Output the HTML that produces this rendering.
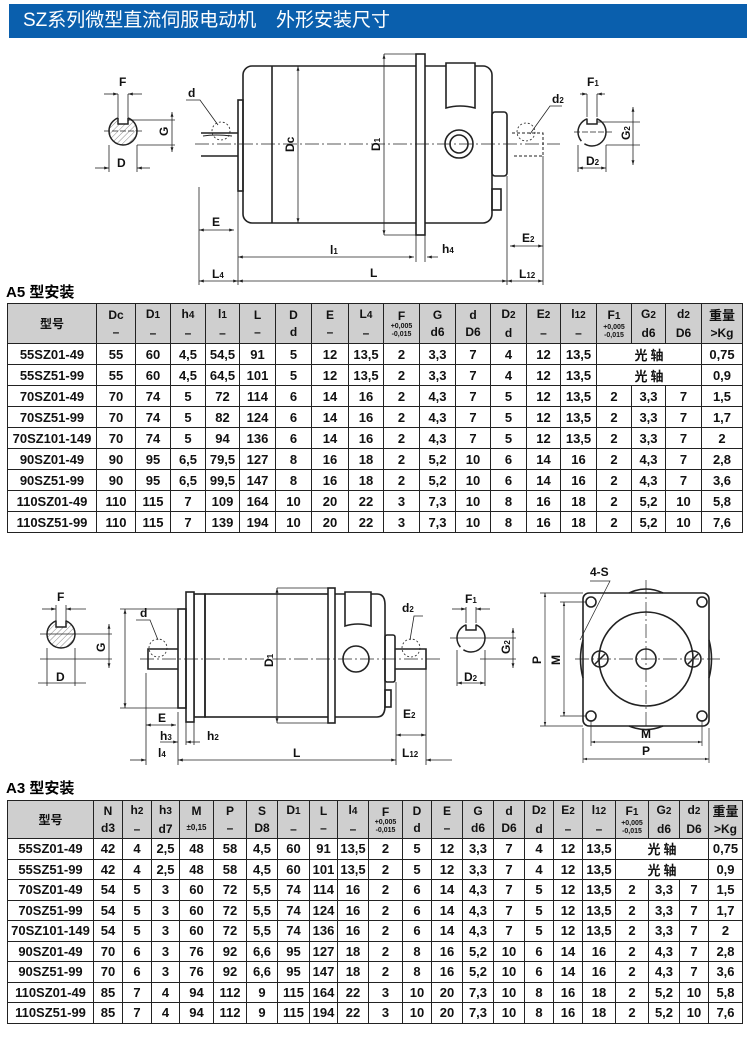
<!DOCTYPE html>
<html><head><meta charset="utf-8">
<style>
body{margin:0;background:#fff;width:750px;height:1040px;position:relative;overflow:hidden;font-family:"Liberation Sans","Noto Sans CJK SC",sans-serif;}
.bar{position:absolute;left:9px;top:4px;width:738px;height:34px;background:#0a5fad;color:#fff;font-size:19px;line-height:34px;font-family:"Liberation Sans","Noto Sans CJK SC",sans-serif;}
.bar span{position:absolute;top:0}
svg{position:absolute;left:0;top:0}
.cap{position:absolute;left:6px;font-weight:bold;font-size:15px;font-family:"Liberation Sans","Noto Sans CJK SC",sans-serif;}
table{position:absolute;left:7px;border-collapse:collapse;table-layout:fixed;width:735px;font-weight:bold;color:#111}
td{border:1.5px solid #222;text-align:center;padding:0;font-size:13px;overflow:hidden;white-space:nowrap}
tr.h td{background:#cfcfcf;font-size:12px;line-height:14px;vertical-align:middle}
.s{font-size:7px;line-height:8px;display:block}
.u{display:block;margin-top:3px}
.k{font-family:"Noto Sans CJK SC",sans-serif;font-size:13px}
</style></head><body>
<div class="bar"><span style="left:14px">SZ系列微型直流伺服电动机</span><span style="left:267px">外形安装尺寸</span></div>

<svg width="750" height="1040" viewBox="0 0 750 1040" font-family="Liberation Sans, sans-serif" font-weight="bold" font-size="12" fill="none" stroke="#222">
<defs>
<marker id="a" viewBox="0 0 10 10" refX="10" refY="5" markerWidth="6" markerHeight="6" orient="auto-start-reverse"><path d="M0,2 L10,5 L0,8z" fill="#222" stroke="none"/></marker>
<pattern id="h" width="4" height="4" patternUnits="userSpaceOnUse" patternTransform="rotate(45)"><line x1="0" y1="0" x2="0" y2="4" stroke="#888" stroke-width="1"/></pattern>
</defs>
<!-- ===== TOP DRAWING ===== -->
<g stroke-width="1.6">
<rect x="243" y="66" width="249" height="157" rx="9"/>
<line x1="272" y1="66" x2="272" y2="223"/>
<rect x="416" y="54" width="9" height="181" fill="#fff"/>
<path d="M446,108 V63 H475 V108 Q460,104 446,108z" fill="#fff"/>
<rect x="492" y="112" width="15" height="64" rx="3"/>
<rect x="492" y="189" width="9" height="21"/>
<rect x="238" y="100" width="5" height="91"/>
<path d="M201,133 H238 M201,156 H238"/>
<circle cx="459" cy="144" r="14"/><circle cx="459" cy="144" r="9"/>
</g>
<path d="M512,133 H543 V156 H512" stroke-dasharray="3,2" stroke-width="1"/>
<path d="M203,136 Q215,134 232,136" stroke-width="1"/>
<circle cx="221" cy="131" r="9" stroke-dasharray="2,2" stroke-width="0.8"/>
<circle cx="526" cy="132" r="9" stroke-dasharray="2,2" stroke-width="0.8"/>
<path d="M195,144 H560" stroke-width="0.7" stroke-dasharray="14,3,2,3"/>
<g stroke-width="0.8">
<line x1="199" y1="187" x2="199" y2="285"/><line x1="238" y1="191" x2="238" y2="285"/>
<line x1="507" y1="176" x2="507" y2="285"/><line x1="543" y1="156" x2="543" y2="285"/>
<line x1="416" y1="235" x2="416" y2="262"/><line x1="425" y1="235" x2="425" y2="262"/>
<line x1="199" y1="230" x2="234" y2="230" marker-start="url(#a)" marker-end="url(#a)"/>
<line x1="238" y1="257" x2="414" y2="257" marker-start="url(#a)" marker-end="url(#a)"/>
<line x1="427" y1="257" x2="438" y2="257" marker-start="url(#a)"/>
<line x1="238" y1="281" x2="507" y2="281" marker-start="url(#a)" marker-end="url(#a)"/>
<line x1="199" y1="281" x2="238" y2="281" marker-start="url(#a)" marker-end="url(#a)"/>
<line x1="507" y1="281" x2="543" y2="281" marker-start="url(#a)" marker-end="url(#a)"/>
<line x1="510" y1="246" x2="543" y2="246" marker-start="url(#a)" marker-end="url(#a)"/>
<line x1="298" y1="66" x2="298" y2="223" marker-start="url(#a)" marker-end="url(#a)"/>
<line x1="384" y1="54" x2="384" y2="235" marker-start="url(#a)" marker-end="url(#a)"/>
<line x1="384" y1="54" x2="416" y2="54"/><line x1="384" y1="235" x2="416" y2="235"/>
<path d="M186,100 H200 L218,125"/><path d="M562,106 H550 L530,134"/>
</g>
<!-- left section -->
<circle cx="123" cy="131" r="14" stroke-width="1.5" fill="url(#h)"/>
<rect x="118" y="116" width="10" height="8" fill="#fff" stroke="none"/>
<path d="M118,117.5 V124 H128 V117.5" stroke-width="1.5"/>
<g stroke-width="0.8">
<line x1="118" y1="94" x2="118" y2="117"/><line x1="128" y1="94" x2="128" y2="117"/>
<line x1="104" y1="94" x2="118" y2="94" marker-end="url(#a)"/><line x1="142" y1="94" x2="128" y2="94" marker-end="url(#a)"/>
<line x1="104" y1="131" x2="142" y2="131" stroke-dasharray="6,2"/>
<line x1="109" y1="145" x2="109" y2="172"/><line x1="137" y1="145" x2="137" y2="172"/>
<line x1="95" y1="168" x2="109" y2="168" marker-end="url(#a)"/><line x1="150" y1="168" x2="137" y2="168" marker-end="url(#a)"/>
<line x1="128" y1="120" x2="175" y2="120"/><line x1="137" y1="145" x2="175" y2="145"/>
<line x1="172" y1="112" x2="172" y2="152" marker-start="url(#a)" marker-end="url(#a)"/>
</g>
<!-- right section -->
<circle cx="592" cy="132" r="14" stroke-width="1.5" stroke-dasharray="30,4"/>
<rect x="587" y="117" width="10" height="8" fill="#fff" stroke="none"/>
<path d="M587,118.5 V124 H597 V118.5" stroke-width="1.5"/>
<g stroke-width="0.8">
<line x1="587" y1="94" x2="587" y2="117"/><line x1="597" y1="94" x2="597" y2="117"/>
<line x1="580" y1="94" x2="587" y2="94" marker-end="url(#a)"/><line x1="605" y1="94" x2="597" y2="94" marker-end="url(#a)"/>
<line x1="574" y1="132" x2="612" y2="132" stroke-dasharray="6,2"/>
<line x1="578" y1="145" x2="578" y2="172"/><line x1="606" y1="145" x2="606" y2="172"/>
<line x1="578" y1="168" x2="606" y2="168" marker-start="url(#a)" marker-end="url(#a)"/>
<line x1="597" y1="122" x2="640" y2="122"/><line x1="606" y1="145" x2="640" y2="145"/>
<line x1="633" y1="107" x2="633" y2="165" marker-start="url(#a)" marker-end="url(#a)"/>
</g>
<g fill="#111" stroke="none">
<text x="119" y="86">F</text><text x="117" y="167">D</text>
<text x="0" y="0" transform="translate(168,136) rotate(-90)">G</text>
<text x="587" y="86">F<tspan font-size="8">1</tspan></text><text x="586" y="165">D<tspan font-size="8">2</tspan></text>
<text x="0" y="0" transform="translate(630,140) rotate(-90)">G<tspan font-size="8">2</tspan></text>
<text x="188" y="97">d</text><text x="552" y="103">d<tspan font-size="8">2</tspan></text>
<text x="0" y="0" transform="translate(294,152) rotate(-90)">Dc</text>
<text x="0" y="0" transform="translate(380,151) rotate(-90)">D<tspan font-size="8">1</tspan></text>
<text x="212" y="226">E</text><text x="330" y="254">l<tspan font-size="8">1</tspan></text>
<text x="442" y="253">h<tspan font-size="8">4</tspan></text><text x="370" y="277">L</text>
<text x="212" y="278">L<tspan font-size="8">4</tspan></text><text x="519" y="278">L<tspan font-size="8">12</tspan></text>
<text x="522" y="242">E<tspan font-size="8">2</tspan></text>
</g>

<!-- ===== BOTTOM DRAWING ===== -->
<g stroke-width="1.6">
<rect x="205" y="594" width="125" height="123"/>
<rect x="194" y="594" width="11" height="123"/>
<rect x="186" y="592" width="8" height="130" fill="#fff"/>
<rect x="178" y="609" width="8" height="99"/>
<path d="M335,594 H377 Q385,594 385,605 V706 Q385,717 377,717 H335"/>
<rect x="328" y="588" width="7" height="135" fill="#fff"/>
<path d="M345,626 V592 H371 V626 Q358,622 345,626z" fill="#fff"/>
<rect x="385" y="635" width="10" height="47" rx="2"/>
<rect x="385" y="690" width="6" height="17"/>
<path d="M178,649 H148 V669 H178"/>
<path d="M395,649 H426 V669 H395"/>
<circle cx="356" cy="659" r="13"/>
</g>
<circle cx="158" cy="648" r="9" stroke-dasharray="2,2" stroke-width="0.8"/>
<circle cx="411" cy="648" r="9" stroke-dasharray="2,2" stroke-width="0.8"/>
<path d="M140,659 H440" stroke-width="0.7" stroke-dasharray="14,3,2,3"/>
<g stroke-width="0.8">
<line x1="277" y1="588" x2="277" y2="723" marker-start="url(#a)" marker-end="url(#a)"/>
<line x1="277" y1="588" x2="328" y2="588"/><line x1="277" y1="723" x2="328" y2="723"/>
<line x1="125" y1="609" x2="125" y2="708" marker-start="url(#a)" marker-end="url(#a)"/>
<line x1="120" y1="609" x2="178" y2="609"/><line x1="120" y1="708" x2="178" y2="708"/>
<line x1="146" y1="673" x2="146" y2="765"/><line x1="178" y1="712" x2="178" y2="765"/>
<line x1="186" y1="722" x2="186" y2="745"/><line x1="194" y1="722" x2="194" y2="745"/>
<line x1="396" y1="682" x2="396" y2="765"/><line x1="426" y1="669" x2="426" y2="765"/>
<line x1="146" y1="725" x2="176" y2="725" marker-start="url(#a)" marker-end="url(#a)"/>
<line x1="160" y1="742" x2="178" y2="742" marker-end="url(#a)"/><line x1="200" y1="742" x2="186" y2="742" marker-end="url(#a)"/>
<line x1="130" y1="760" x2="146" y2="760" marker-end="url(#a)"/>
<line x1="178" y1="760" x2="396" y2="760" marker-start="url(#a)" marker-end="url(#a)"/>
<line x1="426" y1="760" x2="452" y2="760" marker-start="url(#a)"/>
<line x1="396" y1="735" x2="426" y2="735" marker-start="url(#a)" marker-end="url(#a)"/>
<path d="M136,620 H150 L158,640"/><path d="M423,616 H414 L410,640"/>
</g>
<!-- bottom left section -->
<circle cx="61" cy="634" r="14" stroke-width="1.5" fill="url(#h)"/>
<rect x="56" y="619" width="10" height="8" fill="#fff" stroke="none"/>
<path d="M56,620.5 V627 H66 V620.5" stroke-width="1.5"/>
<g stroke-width="0.8">
<line x1="56" y1="605" x2="56" y2="621"/><line x1="66" y1="605" x2="66" y2="621"/>
<line x1="42" y1="609" x2="56" y2="609" marker-end="url(#a)"/><line x1="86" y1="609" x2="66" y2="609" marker-end="url(#a)"/>
<line x1="40" y1="634" x2="112" y2="634"/><line x1="40" y1="659" x2="112" y2="659"/>
<line x1="109" y1="624" x2="109" y2="668" marker-start="url(#a)" marker-end="url(#a)"/>
<line x1="38" y1="683" x2="86" y2="683"/>
<line x1="47" y1="648" x2="47" y2="686"/><line x1="75" y1="648" x2="75" y2="686"/>
</g>
<!-- bottom right section -->
<circle cx="471" cy="638" r="14" stroke-width="1.5" stroke-dasharray="30,4"/>
<rect x="466" y="623" width="10" height="8" fill="#fff" stroke="none"/>
<path d="M466,624.5 V630 H476 V624.5" stroke-width="1.5"/>
<g stroke-width="0.8">
<line x1="466" y1="607" x2="466" y2="623"/><line x1="476" y1="607" x2="476" y2="623"/>
<line x1="452" y1="609" x2="466" y2="609" marker-end="url(#a)"/><line x1="490" y1="609" x2="476" y2="609" marker-end="url(#a)"/>
<line x1="450" y1="638" x2="516" y2="638"/><line x1="480" y1="659" x2="516" y2="659"/>
<line x1="513" y1="628" x2="513" y2="668" marker-start="url(#a)" marker-end="url(#a)"/>
<line x1="457" y1="683" x2="485" y2="683" marker-start="url(#a)" marker-end="url(#a)"/>
<line x1="457" y1="650" x2="457" y2="686"/><line x1="485" y1="650" x2="485" y2="686"/>
</g>
<!-- end view -->
<g stroke-width="1.6">
<rect x="583" y="593" width="126" height="133" rx="6" fill="#fff"/>
<path d="M629,593 Q646,585 663,593 M629,726 Q646,733 663,726"/>
<path d="M583,640 Q578,659 583,678 M709,640 Q714,659 709,678"/>
<circle cx="646" cy="659" r="47"/>
<circle cx="646" cy="659" r="10"/>
<circle cx="600" cy="659" r="8"/><circle cx="693" cy="659" r="8"/>
<circle cx="591" cy="602" r="5"/><circle cx="702" cy="602" r="5"/>
<circle cx="591" cy="716" r="5"/><circle cx="702" cy="716" r="5"/>
</g>
<path d="M595,664 L605,654 M688,664 L698,654" stroke-width="1.5"/>
<g stroke-width="0.7">
<line x1="575" y1="659" x2="720" y2="659" stroke-dasharray="14,3,2,3"/>
<line x1="646" y1="580" x2="646" y2="738" stroke-dasharray="14,3,2,3"/>
<line x1="545" y1="593" x2="545" y2="726" marker-start="url(#a)" marker-end="url(#a)"/>
<line x1="540" y1="593" x2="583" y2="593"/><line x1="540" y1="726" x2="583" y2="726"/>
<line x1="564" y1="602" x2="564" y2="716" marker-start="url(#a)" marker-end="url(#a)"/>
<line x1="560" y1="602" x2="586" y2="602"/><line x1="560" y1="716" x2="586" y2="716"/>
<line x1="591" y1="720" x2="591" y2="746"/><line x1="702" y1="720" x2="702" y2="746"/>
<line x1="583" y1="728" x2="583" y2="763"/><line x1="709" y1="728" x2="709" y2="763"/>
<line x1="591" y1="742" x2="702" y2="742" marker-start="url(#a)" marker-end="url(#a)"/>
<line x1="583" y1="759" x2="709" y2="759" marker-start="url(#a)" marker-end="url(#a)"/>
<path d="M590,581 H610 L580,640"/>
</g>
<g fill="#111" stroke="none">
<text x="57" y="601">F</text><text x="56" y="681">D</text>
<text x="0" y="0" transform="translate(105,652) rotate(-90)">G</text>
<text x="465" y="603">F<tspan font-size="8">1</tspan></text><text x="464" y="681">D<tspan font-size="8">2</tspan></text>
<text x="0" y="0" transform="translate(510,654) rotate(-90)">G<tspan font-size="8">2</tspan></text>
<text x="140" y="617">d</text><text x="402" y="612">d<tspan font-size="8">2</tspan></text>
<text x="0" y="0" transform="translate(273,667) rotate(-90)">D<tspan font-size="8">1</tspan></text>
<text x="158" y="722">E</text><text x="160" y="740">h<tspan font-size="8">3</tspan></text>
<text x="207" y="740">h<tspan font-size="8">2</tspan></text>
<text x="158" y="757">l<tspan font-size="8">4</tspan></text><text x="293" y="757">L</text>
<text x="402" y="757">L<tspan font-size="8">12</tspan></text><text x="403" y="718">E<tspan font-size="8">2</tspan></text>
<text x="590" y="576">4-S</text>
<text x="0" y="0" transform="translate(541,664) rotate(-90)">P</text>
<text x="0" y="0" transform="translate(560,665) rotate(-90)">M</text>
<text x="641" y="738">M</text><text x="642" y="755">P</text>
</g>
</svg>

<div class="cap" style="top:281px">A5 型安装</div>
<table style="top:303px">
<colgroup><col style="width:89px"><col style="width:39px"><col style="width:35px"><col style="width:35px"><col style="width:34px"><col style="width:36px"><col style="width:36px"><col style="width:37px"><col style="width:35px"><col style="width:36px"><col style="width:36px"><col style="width:35px"><col style="width:36px"><col style="width:34px"><col style="width:36px"><col style="width:35px"><col style="width:34px"><col style="width:36px"><col style="width:41px"></colgroup>
<tr class="h" style="height:40px"><td class="k">型号</td><td>Dc<span class="u">–</span></td><td>D<small>1</small><span class="u">–</span></td><td>h<small>4</small><span class="u">–</span></td><td>l<small>1</small><span class="u">–</span></td><td>L<span class="u">–</span></td><td>D<span class="u">d</span></td><td>E<span class="u">–</span></td><td>L<small>4</small><span class="u">–</span></td><td>F<span class="s">+0,005<br>-0,015</span></td><td>G<span class="u">d6</span></td><td>d<span class="u">D6</span></td><td>D<small>2</small><span class="u">d</span></td><td>E<small>2</small><span class="u">–</span></td><td>l<small>12</small><span class="u">–</span></td><td>F<small>1</small><span class="s">+0,005<br>-0,015</span></td><td>G<small>2</small><span class="u">d6</span></td><td>d<small>2</small><span class="u">D6</span></td><td><span class="k">重量</span><span class="u">&gt;Kg</span></td></tr>
<tr style="height:21px"><td>55SZ01-49</td><td>55</td><td>60</td><td>4,5</td><td>54,5</td><td>91</td><td>5</td><td>12</td><td>13,5</td><td>2</td><td>3,3</td><td>7</td><td>4</td><td>12</td><td>13,5</td><td colspan="3" class="k">光 轴</td><td>0,75</td></tr>
<tr style="height:21px"><td>55SZ51-99</td><td>55</td><td>60</td><td>4,5</td><td>64,5</td><td>101</td><td>5</td><td>12</td><td>13,5</td><td>2</td><td>3,3</td><td>7</td><td>4</td><td>12</td><td>13,5</td><td colspan="3" class="k">光 轴</td><td>0,9</td></tr>
<tr style="height:21px"><td>70SZ01-49</td><td>70</td><td>74</td><td>5</td><td>72</td><td>114</td><td>6</td><td>14</td><td>16</td><td>2</td><td>4,3</td><td>7</td><td>5</td><td>12</td><td>13,5</td><td>2</td><td>3,3</td><td>7</td><td>1,5</td></tr>
<tr style="height:21px"><td>70SZ51-99</td><td>70</td><td>74</td><td>5</td><td>82</td><td>124</td><td>6</td><td>14</td><td>16</td><td>2</td><td>4,3</td><td>7</td><td>5</td><td>12</td><td>13,5</td><td>2</td><td>3,3</td><td>7</td><td>1,7</td></tr>
<tr style="height:21px"><td>70SZ101-149</td><td>70</td><td>74</td><td>5</td><td>94</td><td>136</td><td>6</td><td>14</td><td>16</td><td>2</td><td>4,3</td><td>7</td><td>5</td><td>12</td><td>13,5</td><td>2</td><td>3,3</td><td>7</td><td>2</td></tr>
<tr style="height:21px"><td>90SZ01-49</td><td>90</td><td>95</td><td>6,5</td><td>79,5</td><td>127</td><td>8</td><td>16</td><td>18</td><td>2</td><td>5,2</td><td>10</td><td>6</td><td>14</td><td>16</td><td>2</td><td>4,3</td><td>7</td><td>2,8</td></tr>
<tr style="height:21px"><td>90SZ51-99</td><td>90</td><td>95</td><td>6,5</td><td>99,5</td><td>147</td><td>8</td><td>16</td><td>18</td><td>2</td><td>5,2</td><td>10</td><td>6</td><td>14</td><td>16</td><td>2</td><td>4,3</td><td>7</td><td>3,6</td></tr>
<tr style="height:21px"><td>110SZ01-49</td><td>110</td><td>115</td><td>7</td><td>109</td><td>164</td><td>10</td><td>20</td><td>22</td><td>3</td><td>7,3</td><td>10</td><td>8</td><td>16</td><td>18</td><td>2</td><td>5,2</td><td>10</td><td>5,8</td></tr>
<tr style="height:21px"><td>110SZ51-99</td><td>110</td><td>115</td><td>7</td><td>139</td><td>194</td><td>10</td><td>20</td><td>22</td><td>3</td><td>7,3</td><td>10</td><td>8</td><td>16</td><td>18</td><td>2</td><td>5,2</td><td>10</td><td>7,6</td></tr>
</table>

<div class="cap" style="top:777px">A3 型安装</div>
<table style="top:800px">
<colgroup><col style="width:86px"><col style="width:29px"><col style="width:29px"><col style="width:28px"><col style="width:34px"><col style="width:33px"><col style="width:31px"><col style="width:32px"><col style="width:28px"><col style="width:31px"><col style="width:34px"><col style="width:29px"><col style="width:31px"><col style="width:31px"><col style="width:31px"><col style="width:29px"><col style="width:29px"><col style="width:33px"><col style="width:33px"><col style="width:31px"><col style="width:29px"><col style="width:34px"></colgroup>
<tr class="h" style="height:38px"><td class="k">型号</td><td>N<span class="u">d3</span></td><td>h<small>2</small><span class="u">–</span></td><td>h<small>3</small><span class="u">d7</span></td><td>M<span class="u" style="font-size:8px">±0,15</span></td><td>P<span class="u">–</span></td><td>S<span class="u">D8</span></td><td>D<small>1</small><span class="u">–</span></td><td>L<span class="u">–</span></td><td>l<small>4</small><span class="u">–</span></td><td>F<span class="s">+0,005<br>-0,015</span></td><td>D<span class="u">d</span></td><td>E<span class="u">–</span></td><td>G<span class="u">d6</span></td><td>d<span class="u">D6</span></td><td>D<small>2</small><span class="u">d</span></td><td>E<small>2</small><span class="u">–</span></td><td>l<small>12</small><span class="u">–</span></td><td>F<small>1</small><span class="s">+0,005<br>-0,015</span></td><td>G<small>2</small><span class="u">d6</span></td><td>d<small>2</small><span class="u">D6</span></td><td><span class="k">重量</span><span class="u">&gt;Kg</span></td></tr>
<tr style="height:20.5px"><td>55SZ01-49</td><td>42</td><td>4</td><td>2,5</td><td>48</td><td>58</td><td>4,5</td><td>60</td><td>91</td><td>13,5</td><td>2</td><td>5</td><td>12</td><td>3,3</td><td>7</td><td>4</td><td>12</td><td>13,5</td><td colspan="3" class="k">光 轴</td><td>0,75</td></tr>
<tr style="height:20.5px"><td>55SZ51-99</td><td>42</td><td>4</td><td>2,5</td><td>48</td><td>58</td><td>4,5</td><td>60</td><td>101</td><td>13,5</td><td>2</td><td>5</td><td>12</td><td>3,3</td><td>7</td><td>4</td><td>12</td><td>13,5</td><td colspan="3" class="k">光 轴</td><td>0,9</td></tr>
<tr style="height:20.5px"><td>70SZ01-49</td><td>54</td><td>5</td><td>3</td><td>60</td><td>72</td><td>5,5</td><td>74</td><td>114</td><td>16</td><td>2</td><td>6</td><td>14</td><td>4,3</td><td>7</td><td>5</td><td>12</td><td>13,5</td><td>2</td><td>3,3</td><td>7</td><td>1,5</td></tr>
<tr style="height:20.5px"><td>70SZ51-99</td><td>54</td><td>5</td><td>3</td><td>60</td><td>72</td><td>5,5</td><td>74</td><td>124</td><td>16</td><td>2</td><td>6</td><td>14</td><td>4,3</td><td>7</td><td>5</td><td>12</td><td>13,5</td><td>2</td><td>3,3</td><td>7</td><td>1,7</td></tr>
<tr style="height:20.5px"><td>70SZ101-149</td><td>54</td><td>5</td><td>3</td><td>60</td><td>72</td><td>5,5</td><td>74</td><td>136</td><td>16</td><td>2</td><td>6</td><td>14</td><td>4,3</td><td>7</td><td>5</td><td>12</td><td>13,5</td><td>2</td><td>3,3</td><td>7</td><td>2</td></tr>
<tr style="height:20.5px"><td>90SZ01-49</td><td>70</td><td>6</td><td>3</td><td>76</td><td>92</td><td>6,6</td><td>95</td><td>127</td><td>18</td><td>2</td><td>8</td><td>16</td><td>5,2</td><td>10</td><td>6</td><td>14</td><td>16</td><td>2</td><td>4,3</td><td>7</td><td>2,8</td></tr>
<tr style="height:20.5px"><td>90SZ51-99</td><td>70</td><td>6</td><td>3</td><td>76</td><td>92</td><td>6,6</td><td>95</td><td>147</td><td>18</td><td>2</td><td>8</td><td>16</td><td>5,2</td><td>10</td><td>6</td><td>14</td><td>16</td><td>2</td><td>4,3</td><td>7</td><td>3,6</td></tr>
<tr style="height:20.5px"><td>110SZ01-49</td><td>85</td><td>7</td><td>4</td><td>94</td><td>112</td><td>9</td><td>115</td><td>164</td><td>22</td><td>3</td><td>10</td><td>20</td><td>7,3</td><td>10</td><td>8</td><td>16</td><td>18</td><td>2</td><td>5,2</td><td>10</td><td>5,8</td></tr>
<tr style="height:20.5px"><td>110SZ51-99</td><td>85</td><td>7</td><td>4</td><td>94</td><td>112</td><td>9</td><td>115</td><td>194</td><td>22</td><td>3</td><td>10</td><td>20</td><td>7,3</td><td>10</td><td>8</td><td>16</td><td>18</td><td>2</td><td>5,2</td><td>10</td><td>7,6</td></tr>
</table>
</body></html>
